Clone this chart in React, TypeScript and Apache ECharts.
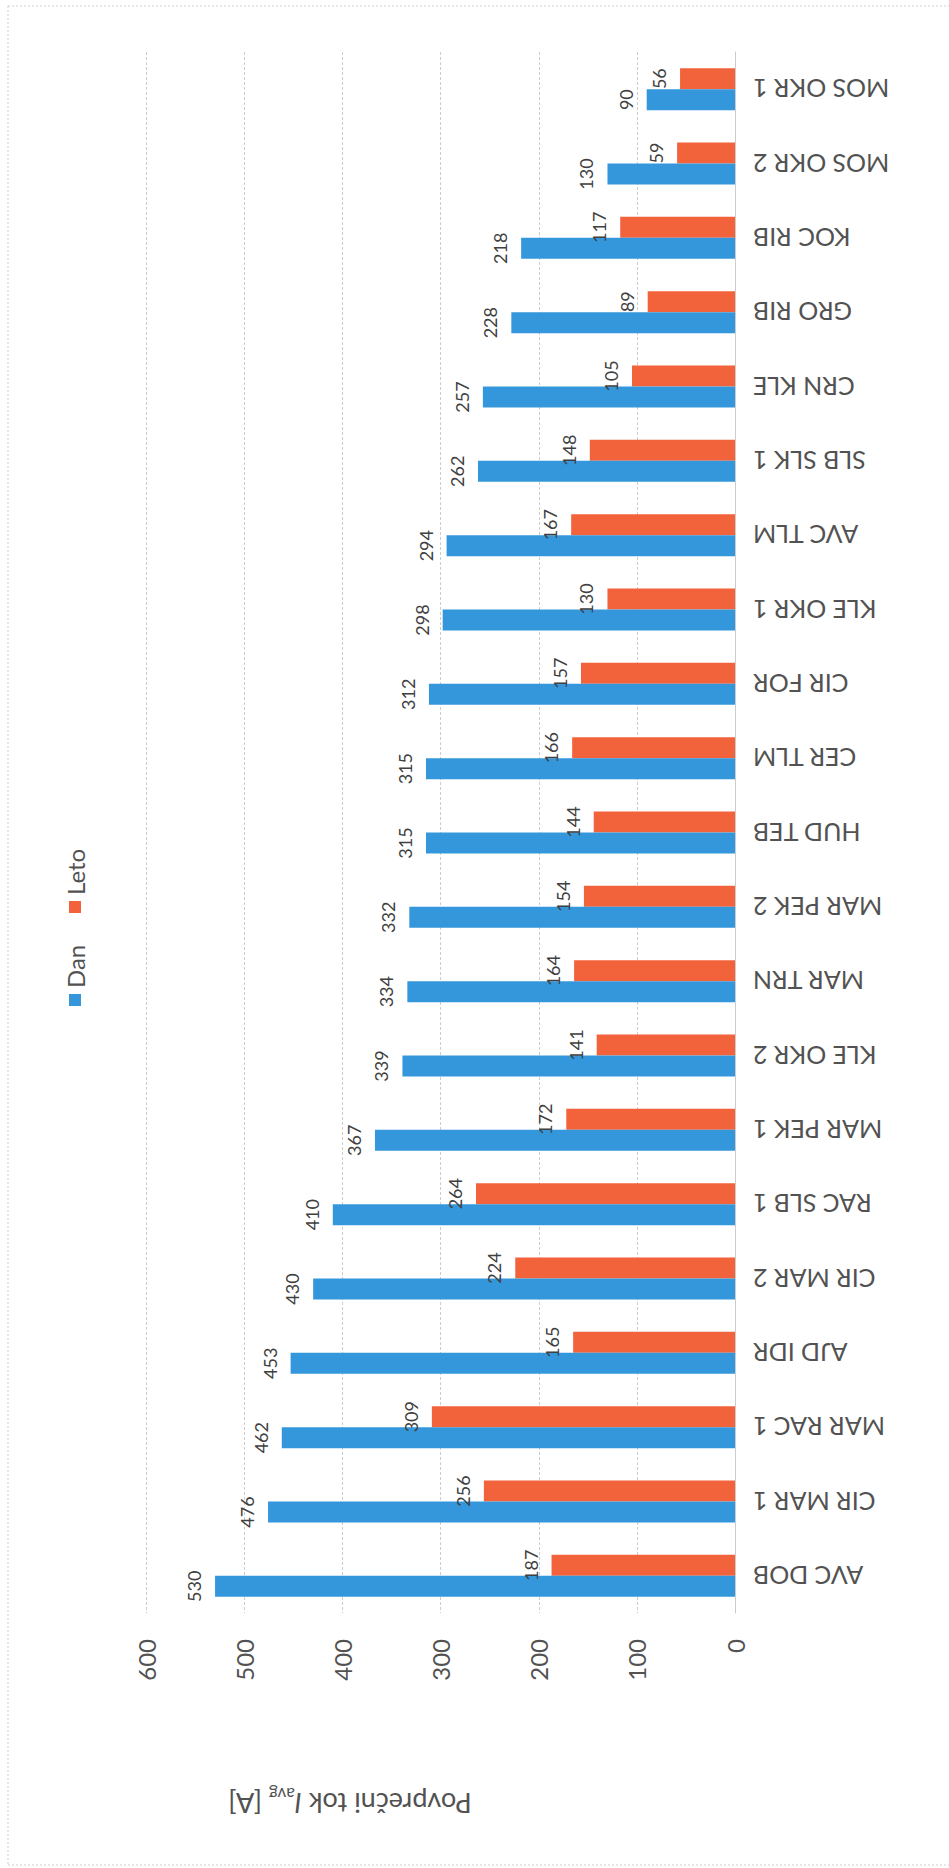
import React, { useEffect, useRef } from "react";
import * as echarts from "echarts";

const categories = [
  "AVC DOB", "CIR MAR 1", "MAR RAC 1", "AJD IDR", "CIR MAR 2", "RAC SLB 1", "MAR PEK 1",
  "KLE OKR 2", "MAR TRN", "MAR PEK 2", "HUD TEB", "CER TLM", "CIR FOR", "KLE OKR 1",
  "AVC TLM", "SLB SLK 1", "CRN KLE", "GRO RIB", "KOC RIB", "MOS OKR 2", "MOS OKR 1",
];
const danValues = [530, 476, 462, 453, 430, 410, 367, 339, 334, 332, 315, 315, 312, 298, 294, 262, 257, 228, 218, 130, 90];
const letoValues = [187, 256, 309, 165, 224, 264, 172, 141, 164, 154, 144, 166, 157, 130, 167, 148, 105, 89, 117, 59, 56];
const seriesNames = ["Dan", "Leto"];
const axisMin = 0;
const axisMax = 600;
const axisStep = 100;

const BLUE = "#3597DB";
const RED = "#F2623B";
const FONT = "Lato";
const TEXT = "#525252";

export default function App() {
  const ref = useRef<HTMLDivElement>(null);
  useEffect(() => {
    document.body.style.margin = "0";
    const chart = echarts.init(ref.current!, null, { renderer: "svg" });
    const barLabel = {
      show: true,
      position: "left",
      rotate: 90,
      align: "center",
      verticalAlign: "bottom",
      distance: 12,
      fontSize: 18,
      fontFamily: FONT,
      color: "#404040",
    };
    const border = { stroke: "#cfcfcf", lineWidth: 1, lineDash: [2, 2] };
    const legendText = (name: string, y: number) => ({
      type: "text", x: 75, y, rotation: Math.PI / 2,
      style: { text: name, fontSize: 24, fontFamily: FONT, fill: TEXT, align: "left", verticalAlign: "middle" },
    });
    chart.setOption({
      animation: false,
      backgroundColor: "#ffffff",
      grid: { left: 146.4, right: 214, top: 52, bottom: 255, containLabel: false },
      xAxis: {
        type: "value",
        inverse: true,
        min: axisMin,
        max: axisMax,
        interval: axisStep,
        position: "bottom",
        axisLine: { show: false },
        axisTick: { show: false },
        splitLine: { show: true, lineStyle: { color: "#cccccc", width: 1, type: [3, 2] } },
        axisLabel: { rotate: 90, margin: 26, fontSize: 24, fontFamily: FONT, color: TEXT },
      },
      yAxis: {
        type: "category",
        position: "right",
        data: categories,
        axisLine: { show: true, lineStyle: { color: "#cccccc", width: 1, type: [3, 2] } },
        axisTick: { show: false },
        axisLabel: { rotate: 180, margin: 18, fontSize: 25, fontFamily: FONT, color: TEXT, interval: 0 },
      },
      series: [
        {
          name: seriesNames[1],
          type: "bar",
          data: letoValues,
          barWidth: 21,
          barGap: "0%",
          itemStyle: { color: RED },
          label: barLabel,
        },
        {
          name: seriesNames[0],
          type: "bar",
          data: danValues,
          barWidth: 21,
          barGap: "0%",
          itemStyle: { color: BLUE },
          label: barLabel,
        },
      ],
      graphic: [
        { type: "line", shape: { x1: 8, y1: 6, x2: 949, y2: 6 }, style: border, silent: true },
        { type: "line", shape: { x1: 8, y1: 6, x2: 8, y2: 1865 }, style: border, silent: true },
        { type: "line", shape: { x1: 8, y1: 1865, x2: 949, y2: 1865 }, style: border, silent: true },
        {
          type: "text",
          x: 350,
          y: 1803,
          rotation: Math.PI,
          style: {
            text: "{n|Povprečni tok }{i|I}{s|avg}{n| [A]}",
            align: "center",
            verticalAlign: "middle",
            rich: {
              n: { fontSize: 27, fontFamily: FONT, fill: TEXT, lineHeight: 34 },
              i: { fontSize: 27, fontFamily: FONT, fontStyle: "italic", fill: TEXT, lineHeight: 34 },
              s: { fontSize: 17, fontFamily: FONT, fill: TEXT, lineHeight: 34, verticalAlign: "bottom" },
            },
          },
        },
        { type: "rect", shape: { x: 69, y: 994, width: 12, height: 12 }, style: { fill: BLUE } },
        legendText(seriesNames[0], 988),
        { type: "rect", shape: { x: 69, y: 901, width: 12, height: 12 }, style: { fill: RED } },
        legendText(seriesNames[1], 895),
      ],
    });
    return () => chart.dispose();
  }, []);
  return <div ref={ref} style={{ position: "absolute", left: 0, top: 0, width: 949, height: 1868 }} />;
}
